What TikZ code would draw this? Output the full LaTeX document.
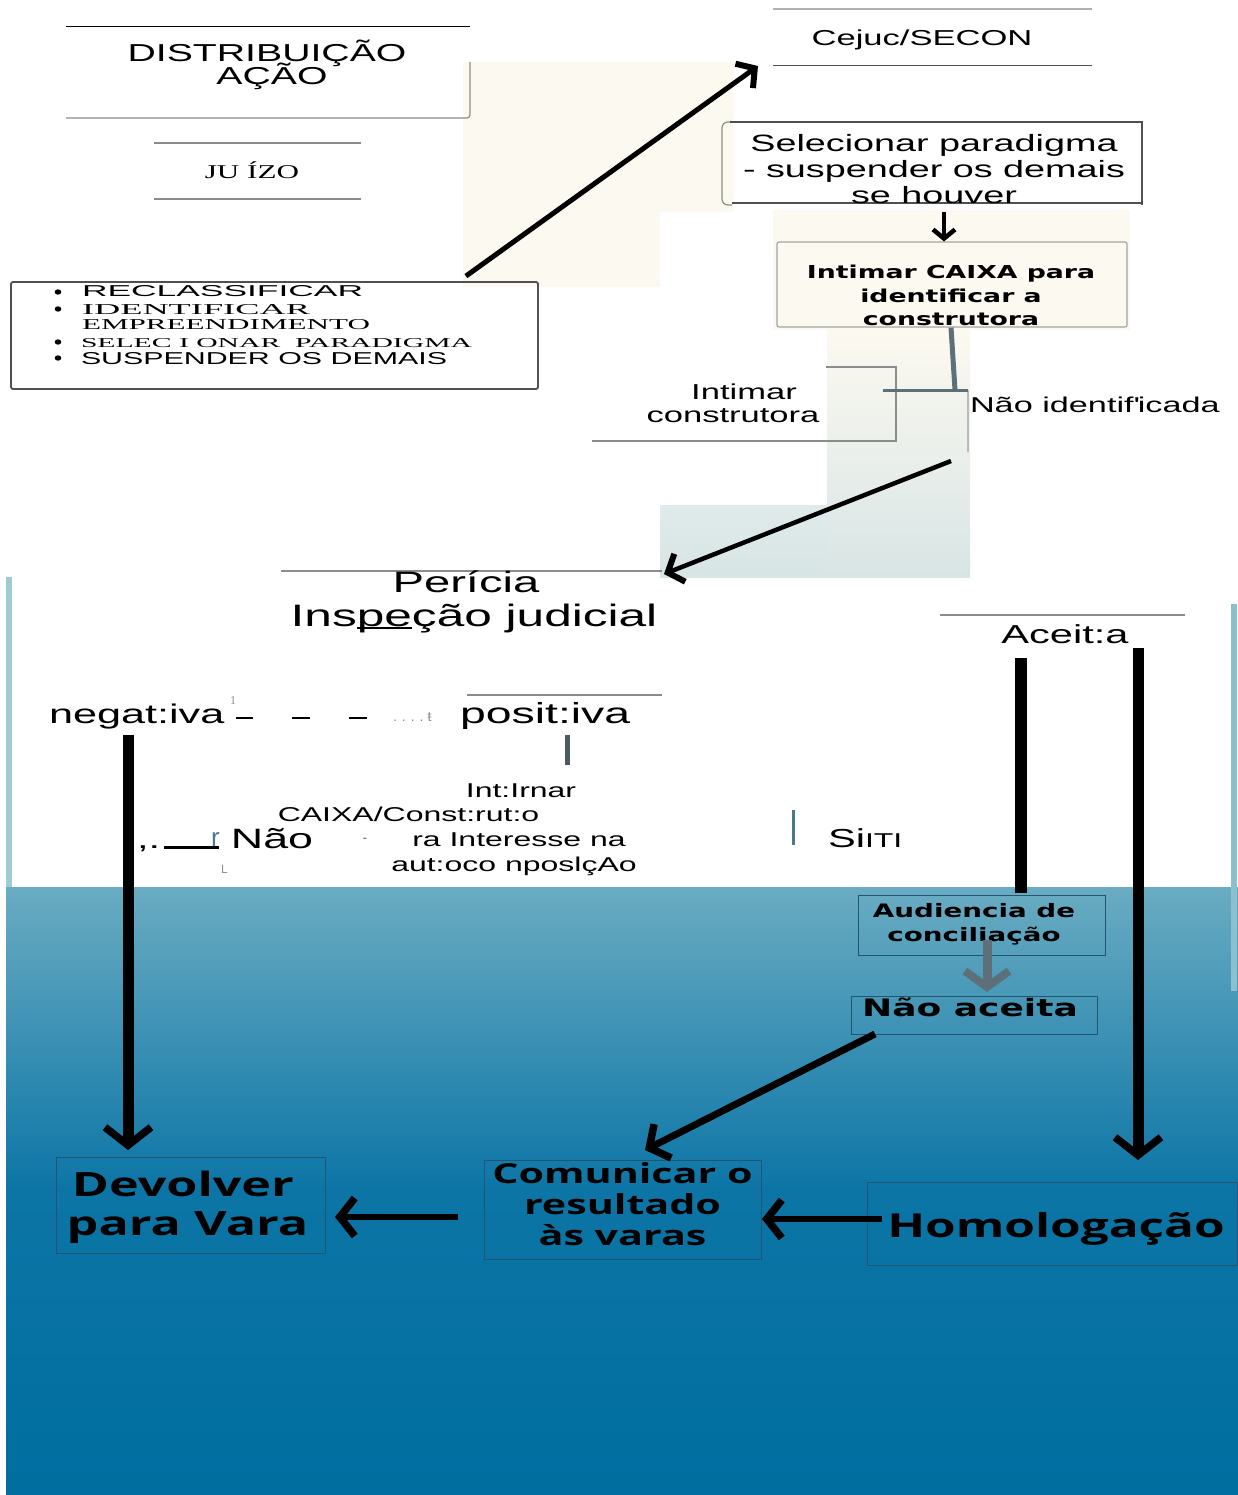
\documentclass[tikz,border=0pt]{standalone}
\usepackage{fontspec}
\usepackage{graphicx}
\usetikzlibrary{arrows.meta,calc}
\newfontfamily\fA{Liberation Sans}[FakeStretch=1.6]
\newfontfamily\fP{Liberation Sans}
\newfontfamily\fT{Liberation Serif}
\newfontfamily\fS{Liberation Serif}[FakeStretch=1.6]
\newfontfamily\fV{DejaVu Sans}[FakeStretch=1.5]
\newfontfamily\fO{Open Sans}[FakeStretch=1.5]
\newcommand\fz[2]{\fontsize{#1}{#2}\selectfont}
\newcommand\ulpe[1]{\setbox0\hbox{#1}\rlap{\rule[-2.5pt]{\wd0}{1.6pt}}\box0}
\definecolor{cream}{RGB}{252,249,240}
\definecolor{mist}{RGB}{216,229,229}
\definecolor{mistT}{RGB}{224,234,234}
\definecolor{lgrey}{RGB}{140,140,140}
\definecolor{dgrey}{RGB}{80,80,80}
\definecolor{slate}{RGB}{93,112,121}
\definecolor{seaT}{RGB}{106,172,194}
\definecolor{seaM}{RGB}{12,117,166}
\definecolor{seaB}{RGB}{0,110,160}
\definecolor{stripL}{RGB}{159,203,213}
\definecolor{stripR}{RGB}{140,192,207}
\definecolor{boxedge}{RGB}{35,85,110}
\definecolor{tealtxt}{RGB}{74,122,138}
\begin{document}
\begin{tikzpicture}[x=1pt,y=-1pt,
 t/.style={inner sep=0pt,outer sep=0pt},
 frame/.style={inner sep=0pt,outer sep=0pt,draw=none},
 ln/.style={draw=lgrey,line width=1.2pt},
 lnd/.style={draw=dgrey,line width=1.3pt},
 dotmark/.style={fill=black,x radius=3.3pt,y radius=2.7pt},
 a5/.style={line width=5pt,-{Straight Barb[length=13pt,width=30pt,line width=6pt]}},
 a4/.style={line width=4pt,-{Straight Barb[length=9pt,width=22pt,line width=4.5pt]}},
 abig/.style={line width=11pt,-{Straight Barb[length=18pt,width=46pt,line width=7.5pt]}},
 amid/.style={line width=6pt,-{Straight Barb[length=15pt,width=38pt,line width=7.5pt]}},
 agrey/.style={draw=slate,line width=9pt,-{Straight Barb[length=16pt,width=44pt,line width=8pt]}},
 sea/.style={draw=boxedge,line width=1pt,inner sep=0pt,outer sep=0pt}
]
\useasboundingbox (0,0) rectangle (1238,1495);
% backgrounds
\fill[white] (0,0) rectangle (1238,1495);
\fill[cream] (463,62) -- (733,62) -- (733,212) -- (660,212) -- (660,287) -- (463,287) -- cycle;
\fill[cream] (773,210) rectangle (1130,330);
\shade[top color=cream, bottom color=mist] (827,330) rectangle (970,577);
\shade[top color=mistT, bottom color=mist] (660,505) rectangle (827,577);
\shade[top color=seaT, bottom color=seaM] (6,887) rectangle (1238,1190);
\shade[top color=seaM, bottom color=seaB] (6,1189.5) rectangle (1238,1495);
\fill[stripL] (6,577) rectangle (12,887);
\fill[stripR] (1231,604) rectangle (1237,991);

% frames
\node[frame,minimum width=404pt,minimum height=91pt] (dist) at (268,72.5) {};
\draw[black,line width=1pt] (dist.north west) -- (dist.north east);
\draw[ln,rounded corners=3pt] (dist.south west) -- (dist.south east) -- ([yshift=-35pt]dist.north east);
\node[frame,minimum width=207pt,minimum height=56pt] (juizo) at (257.5,171) {};
\draw[ln] (juizo.north west) -- (juizo.north east);
\draw[ln] (juizo.south west) -- (juizo.south east);
\node[frame,minimum width=319pt,minimum height=57pt] (cejuc) at (932.5,37.5) {};
\draw[ln,draw=lgrey!70] (cejuc.north west) -- (cejuc.north east);
\draw[lnd,line width=1pt] (cejuc.south west) -- (cejuc.south east);
\node[draw=dgrey,line width=1.8pt,rounded corners=2pt,inner sep=0pt,minimum width=527pt,minimum height=107pt] (tasks) at (274.5,335.5) {};
\node[frame,minimum width=420pt,minimum height=83pt] (sel) at (932,163.5) {};
\draw[ln,rounded corners=6pt] ([xshift=10pt]sel.north west) -- (sel.north west) -- (sel.south west) -- ([xshift=10pt]sel.south west);
\draw[lnd] ([xshift=8pt]sel.north west) -- (sel.north east) -- (sel.south east);
\draw[dgrey,line width=2pt] ([xshift=10pt,yshift=2pt]sel.south west) -- ([yshift=2pt]sel.south east);
\node[draw=lgrey!80,fill=cream,line width=1.2pt,rounded corners=2pt,inner sep=0pt,minimum width=350pt,minimum height=85pt] (caixa) at (952,284.5) {};
\node[frame,minimum width=304pt,minimum height=74pt] (intc) at (744,404) {};
\draw[ln] ([xshift=-70pt]intc.north east) -- (intc.north east) -- (intc.south east) -- (intc.south west);
\node[frame,minimum width=270pt,minimum height=62pt] (naoid) at (1103,421) {};
\draw[ln,draw=lgrey!60] (naoid.north west) -- (naoid.south west);
\node[frame,minimum width=381pt,minimum height=69pt] (peric) at (471.5,605.5) {};
\draw[ln] (peric.north west) -- (peric.north east);
\node[frame,minimum width=195pt,minimum height=35pt] (posit) at (564.5,712.5) {};
\draw[ln] (posit.north west) -- (posit.north east);
\node[frame,minimum width=245pt,minimum height=35pt] (aceita) at (1062.5,632.5) {};
\draw[ln] (aceita.north west) -- (aceita.north east);
\node[sea,minimum width=247pt,minimum height=60pt] (aud) at (981.5,925) {};
\node[sea,minimum width=246pt,minimum height=38pt] (nao) at (974,1015) {};
\node[sea,minimum width=269pt,minimum height=96pt] (dev) at (190.5,1205) {};
\node[sea,minimum width=277pt,minimum height=99pt] (com) at (622.5,1209.5) {};
\node[sea,minimum width=370pt,minimum height=83pt] (hom) at (1052,1223.5) {};

% texts
\node[t,anchor=base] (dist1) at (267,62) {\fA\fz{24.5}{25}DISTRIBUIÇÃO};
\node[t,anchor=base] (dist2) at (272,85) {\fA\fz{24.5}{25}AÇÃO};
\node[t,anchor=base] (juizoT) at (252,179) {\fS\fz{19.5}{20}JU ÍZO};
\node[t,anchor=base west] (b1) at (82,297) {\resizebox{281pt}{11pt}{\fP RECLASSIFICAR}};
\node[t,anchor=base west] (b2) at (82,315) {\resizebox{228pt}{10pt}{\fT IDENTIFICAR}};
\node[t,anchor=base west] (b3) at (82,330) {\resizebox{288pt}{10pt}{\fT EMPREENDIMENTO}};
\node[t,anchor=base west] (b4) at (81,347) {\resizebox{391pt}{9pt}{\fT SELEC I ONAR\ \ PARADIGMA}};
\node[t,anchor=base west] (b5) at (81,364) {\resizebox{366pt}{12pt}{\fP SUSPENDER OS DEMAIS}};
\fill[dotmark] (58,292) ellipse [];
\fill[dotmark] (58,309) ellipse [];
\fill[dotmark] (58,342) ellipse [];
\fill[dotmark] (58,358) ellipse [];
\node[t,anchor=base] (cejucT) at (922,46) {\fA\fz{21.6}{22}Cejuc/SECON};
\node[t,anchor=base] (sel1) at (934,152) {\fA\fz{23.6}{24}Selecionar paradigma};
\node[t,anchor=base] (sel2) at (934,178) {\fA\fz{23.6}{24}- suspender os demais};
\node[t,anchor=base] (sel3) at (934,204) {\fA\fz{23.6}{24}se houver};
\node[t,anchor=base] (cx1) at (951,279) {\fV\bfseries\fz{17.8}{18}Intimar CAIXA para};
\node[t,anchor=base] (cx2) at (951,302) {\fV\bfseries\fz{17.8}{18}identificar a};
\node[t,anchor=base] (cx3) at (951,326) {\fV\bfseries\fz{17.8}{18}construtora};
\node[t,anchor=base] (ic1) at (744,399) {\fA\fz{21.6}{22}Intimar};
\node[t,anchor=base] (ic2) at (733,422) {\fA\fz{21.6}{22}construtora};
\node[t,anchor=base west] (niT) at (970,412) {\fA\fz{21.4}{22}Não identif\textquotesingle icada};
\node[t,anchor=base] (pt1) at (466,592) {\fA\fz{29.5}{30}Perícia};
\node[t,anchor=base] (pt2) at (474,626) {\fA\fz{31}{31}Ins\ulpe{pe}ção judicial};
\node[t,anchor=base west] (neg) at (49,723) {\fA\fz{27}{27}negat:iva};
\node[t,anchor=base] (sup1) at (233,704) {\fT\fz{12}{12}\color{lgrey}1};
\draw[black,line width=1.3pt] (236,718) -- (253,718);
\draw[black,line width=1.3pt] (292,718) -- (310,718);
\draw[black,line width=1.3pt] (349,718) -- (367,718);
\node[t,anchor=base west] (dots) at (393,721) {\fP\fz{14}{14}\color{lgrey}.\hspace{5pt}.\hspace{5pt}.\hspace{5pt}.\hspace{4pt}ŧ};
\node[t,anchor=base west] (positT) at (460,723) {\fA\fz{29}{29}posit:iva};
\node[t,anchor=base] (pm1) at (521,797) {\fA\fz{20}{20}Int:Irnar};
\node[t,anchor=base] (pm2) at (408.5,821) {\fA\fz{20}{20}CAIXA/Const:rut:o};
\node[t,anchor=base] (pm3) at (519,846) {\fA\fz{20}{20}ra Interesse na};
\node[t,anchor=base] (pm4) at (514,871) {\fA\fz{20}{20}aut:oco nposlçAo};
\node[t,anchor=base west] (commas) at (137,848) {\fA\fz{26}{26},.\,\rule[-1pt]{55pt}{3pt}};
\node[t,anchor=base west] (rr) at (211,846) {\fP\fz{26}{26}\color{tealtxt}r};
\node[t,anchor=base west] (ll) at (221,873) {\fP\fz{12}{12}\color{lgrey}L};
\node[t,anchor=base] (naoT) at (272,848) {\fA\fz{28}{28}Não};
\node[t,anchor=base] (mk) at (365,842) {\fP\fz{14}{14}\color{tealtxt}-};
\draw[tealtxt,line width=3pt] (793,810) -- (793,845);
\node[t,anchor=base west] (simT) at (828,847) {\fA\fz{26}{26}Si{\fz{20}{20}ITI}};
\node[t,anchor=base] (aceitaT) at (1065,643) {\fA\fz{26}{26}Aceit:a};
\node[t,anchor=base] (au1) at (974,917) {\fV\bfseries\fz{18.5}{19}Audiencia de};
\node[t,anchor=base] (au2) at (974,941) {\fV\bfseries\fz{18.5}{19}conciliação};
\node[t,anchor=base] (naoaT) at (970,1016) {\fV\bfseries\fz{24}{24}Não aceita};
\node[t,anchor=base] (dv1) at (183,1196) {\fO\bfseries\fz{33.5}{34}Devolver};
\node[t,anchor=base] (dv2) at (187.5,1235) {\fO\bfseries\fz{33.5}{34}para Vara};
\node[t,anchor=base] (cm1) at (622.5,1183) {\fO\bfseries\fz{27.5}{28}Comunicar o};
\node[t,anchor=base] (cm2) at (622.5,1214) {\fO\bfseries\fz{27.5}{28}resultado};
\node[t,anchor=base] (cm3) at (622.5,1245) {\fO\bfseries\fz{27.5}{28}às varas};
\node[t,anchor=base] (homT) at (1056,1237) {\fO\bfseries\fz{33}{34}Homologação};

% connectors
\draw[a5] ([xshift=-73pt,yshift=5pt]tasks.north east) -- ([xshift=-15pt]cejuc.south west);
\draw[a4] ([xshift=12pt,yshift=-7pt]sel.south) -- ([xshift=-8pt]caixa.north);
\coordinate (junc) at (955,390);
\draw[slate,line width=5pt] ([xshift=-1pt]caixa.south) -- (junc);
\draw[slate,line width=3pt] ([xshift=-13pt]intc.east |- junc) -- (naoid.west |- junc);
\draw[a5,line width=4.5pt] ([xshift=-17pt,yshift=-9pt]naoid.south west) -- ([xshift=2pt,yshift=-3pt]peric.north east);
\draw[slate!80!black,line width=5pt] ([xshift=2.5pt,yshift=-5pt]posit.south) -- ([xshift=2.5pt,yshift=-35pt]posit.south);
\draw[abig] ([xshift=-62.5pt,yshift=-6pt]dev.north |- neg.south) -- ([xshift=-62.5pt,yshift=7pt]dev.north);
\draw[line width=12pt] ([xshift=-41.5pt,yshift=-8pt]aceita.south) -- ([xshift=39.5pt,yshift=2pt]aud.north);
\draw[abig] ([xshift=75.5pt,yshift=2pt]aceita.south) -- ([xshift=86pt,yshift=22pt]hom.north);
\draw[agrey] ([xshift=5.5pt,yshift=-15pt]aud.center) -- ([xshift=13pt,yshift=4pt]nao.north);
\draw[line width=7pt,-{Straight Barb[length=15pt,width=38pt,line width=7.5pt]}] ([xshift=-99pt]nao.south) -- ([xshift=22.5pt,yshift=10pt]com.north);
\draw[amid] ([xshift=15pt,yshift=4.5pt]hom.west) -- ([xshift=1pt,yshift=-9.5pt]com.east);
\draw[amid] ([xshift=-26pt,yshift=-7.5pt]com.west) -- ([xshift=10pt,yshift=-12pt]dev.east);
\end{tikzpicture}
\end{document}
